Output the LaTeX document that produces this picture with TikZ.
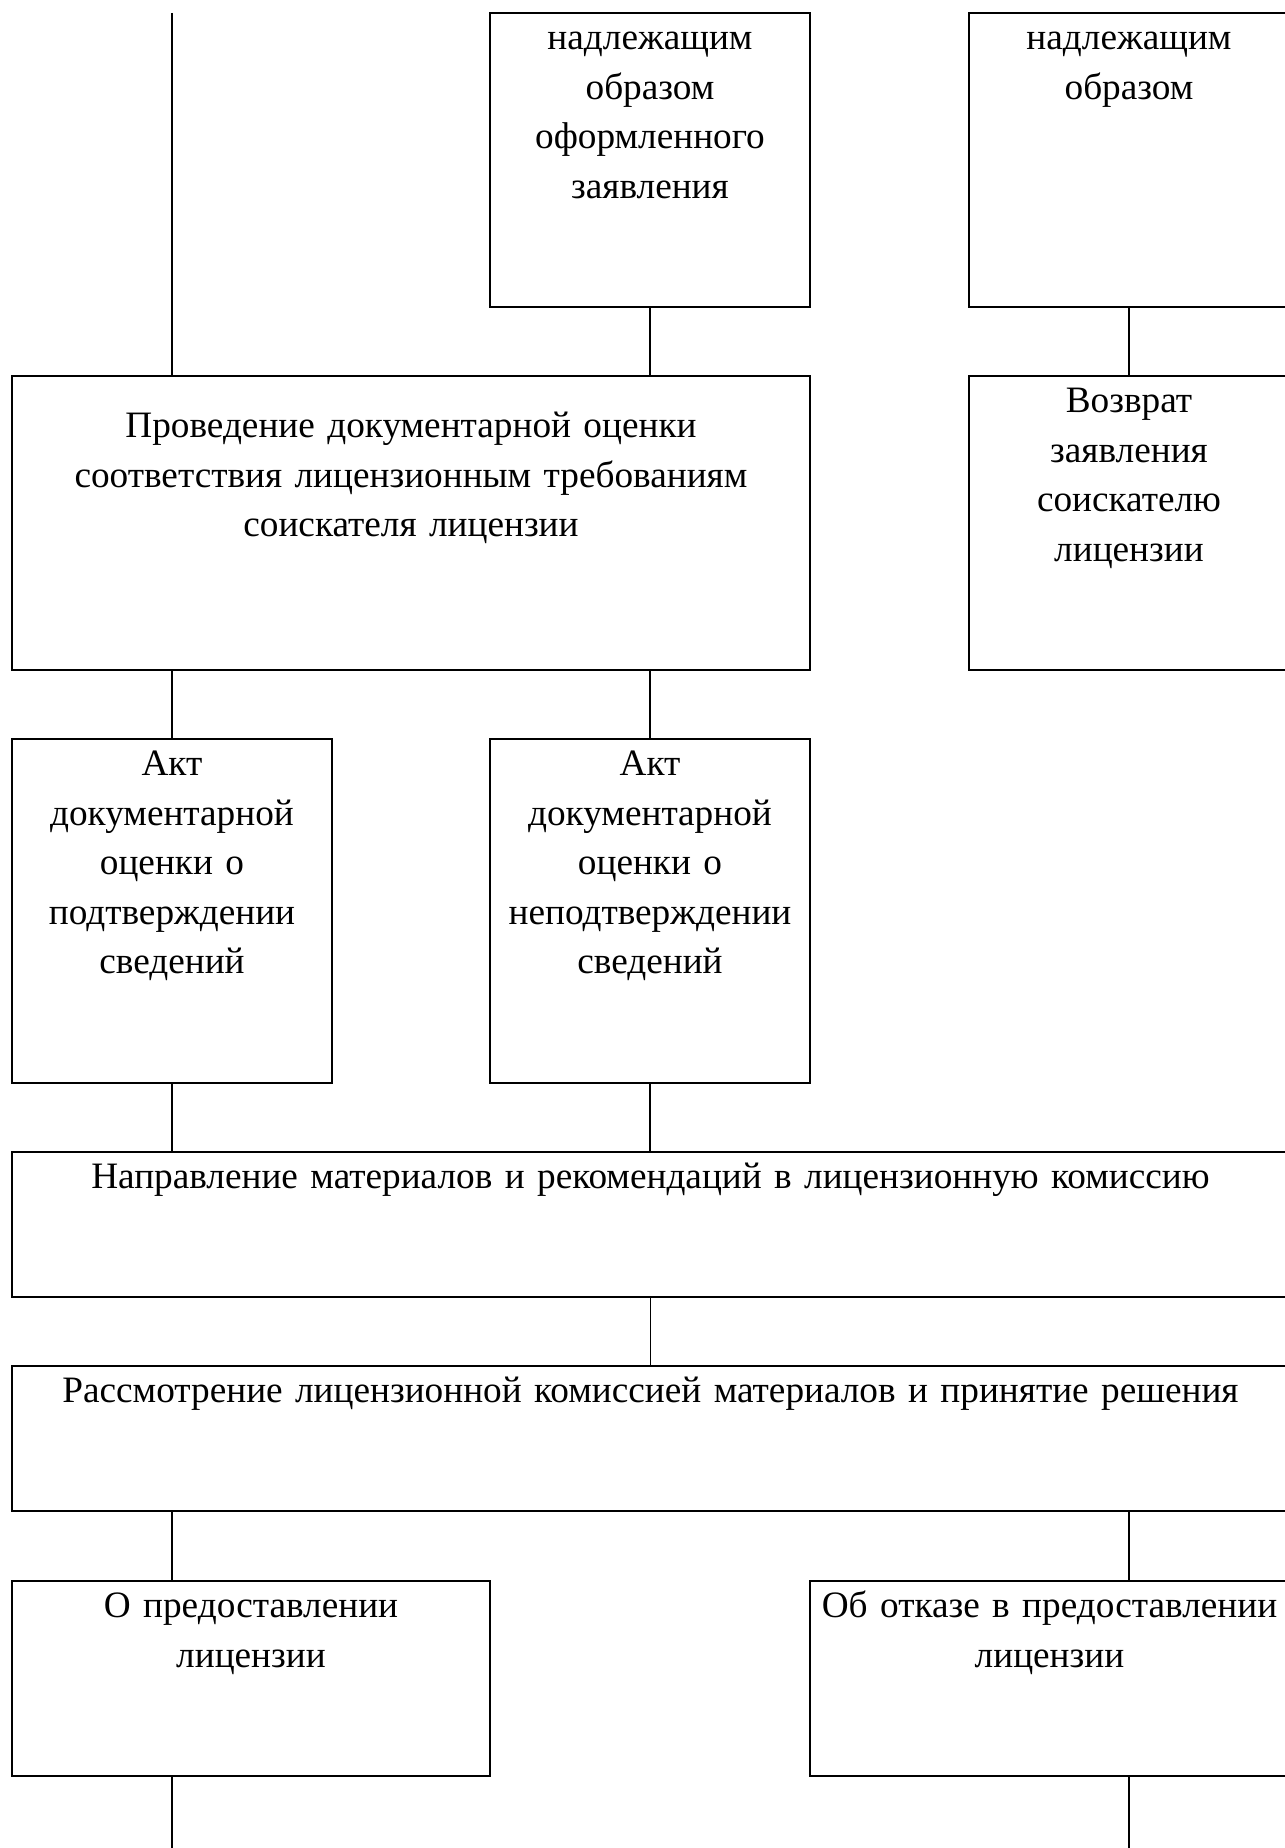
\documentclass[tikz,border=0pt]{standalone}
\usepackage{fontspec}
\setmainfont{Liberation Serif}
\usepackage{xcolor}
\usepackage{tikz}
\definecolor{ink}{HTML}{000000}
\definecolor{paper}{HTML}{FFFFFF}
\tikzset{
  blk/.style={draw=ink, line width=1.1pt, rectangle, inner sep=0pt},
  lnk/.style={draw=ink, line width=0.75pt},
  lab/.style={anchor=north, inner sep=0pt, align=center, text width=25cm, text=ink,
    yshift=-0.06cm, execute at begin node=\strut},
}

\begin{document}
\fontsize{21.2}{28.1}\selectfont
\begin{tikzpicture}
  \fill[paper] (0,0) rectangle (25.7,-36.96);
  \useasboundingbox (0,0) rectangle (25.7,-36.96);
  % free ends of the side lines
  \coordinate (topL) at (3.44,-0.26);
  \coordinate (endL) at (3.44,-37.1);
  \coordinate (endR) at (22.58,-37.1);
  % row 1
  \node[blk, minimum width=6.4cm, minimum height=5.88cm,
    label={[lab]north:надлежащим\\образом\\оформленного\\заявления}] (zayav) at (13.0,-3.2) {};
  \node[blk, minimum width=6.4cm, minimum height=5.88cm,
    label={[lab]north:надлежащим\\образом}] (zayavb) at (22.58,-3.2) {};
  % row 2
  \node[blk, minimum width=15.96cm, minimum height=5.88cm,
    label={[lab, yshift=-0.5cm]north:Проведение документарной оценки\\соответствия лицензионным требованиям\\соискателя лицензии}] (ocenka) at (8.22,-10.46) {};
  \node[blk, minimum width=6.4cm, minimum height=5.88cm,
    label={[lab]north:Возврат\\заявления\\соискателю\\лицензии}] (vozvrat) at (22.58,-10.46) {};
  % row 3
  \node[blk, minimum width=6.4cm, minimum height=6.88cm,
    label={[lab]north:Акт\\документарной\\оценки о\\подтверждении\\сведений}] (aktyes) at (3.44,-18.22) {};
  \node[blk, minimum width=6.4cm, minimum height=6.88cm,
    label={[lab]north:Акт\\документарной\\оценки о\\неподтверждении\\сведений}] (aktno) at (13.0,-18.22) {};
  % rows 4 and 5
  \node[blk, minimum width=25.54cm, minimum height=2.9cm,
    label={[lab]north:Направление материалов и рекомендаций в лицензионную комиссию}] (napr) at (13.01,-24.49) {};
  \node[blk, minimum width=25.54cm, minimum height=2.9cm,
    label={[lab]north:Рассмотрение лицензионной комиссией материалов и принятие решения}] (rassm) at (13.01,-28.77) {};
  % row 6
  \node[blk, minimum width=9.56cm, minimum height=3.9cm,
    label={[lab]north:О предоставлении\\лицензии}] (predost) at (5.02,-33.57) {};
  \node[blk, minimum width=9.58cm, minimum height=3.9cm,
    label={[lab]north:Об отказе в предоставлении\\лицензии}] (otkaz) at (20.99,-33.57) {};
  % connectors
  \draw[lnk] (topL) -- (topL |- ocenka.north);
  \draw[lnk] (zayav.south) -- (zayav.south |- ocenka.north);
  \draw[lnk] (zayavb.south) -- (vozvrat.north);
  \draw[lnk] (aktyes.north |- ocenka.south) -- (aktyes.north);
  \draw[lnk] (aktno.north |- ocenka.south) -- (aktno.north);
  \draw[lnk] (aktyes.south) -- (aktyes.south |- napr.north);
  \draw[lnk] (aktno.south) -- (aktno.south |- napr.north);
  \draw[lnk] (napr.south) -- (rassm.north);
  \draw[lnk] (endL |- rassm.south) -- (endL |- predost.north);
  \draw[lnk] (endR |- rassm.south) -- (endR |- otkaz.north);
  \draw[lnk] (endL |- predost.south) -- (endL);
  \draw[lnk] (endR |- otkaz.south) -- (endR);
\end{tikzpicture}
\end{document}
